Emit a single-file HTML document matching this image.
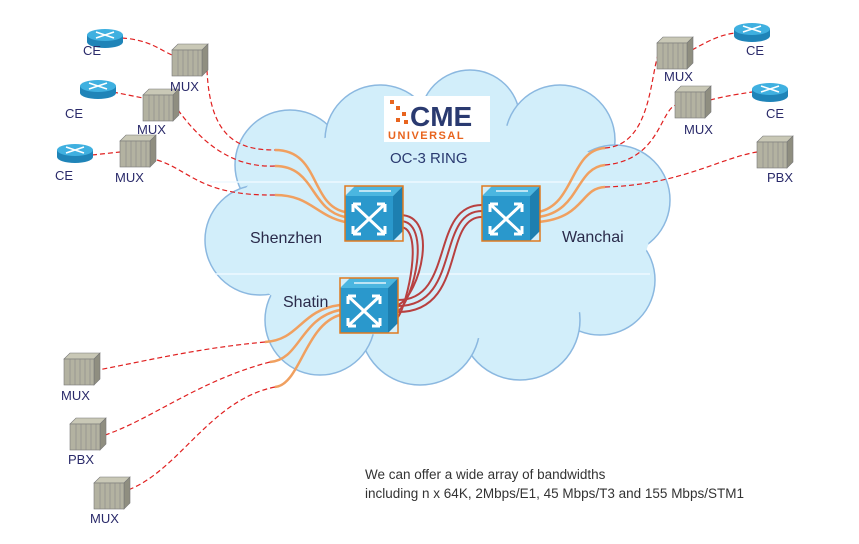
<!DOCTYPE html>
<html><head><style>
body{margin:0;background:#fff;}
svg{display:block;font-family:"Liberation Sans",sans-serif;}
</style></head><body>
<svg width="859" height="544" viewBox="0 0 859 544" xmlns="http://www.w3.org/2000/svg">
<defs>
<g id="mux">
<path d="M0 6 L6 0 L36 0 L30 6 Z" fill="#c9c8b6" stroke="#777" stroke-width=".6"/>
<path d="M30 6 L36 0 L36 26 L30 32 Z" fill="#8f8e80" stroke="#777" stroke-width=".6"/>
<rect x="0" y="6" width="30" height="26" fill="#b3b2a1" stroke="#777" stroke-width=".6"/>
<path d="M6 6V32M11 6V32M16 6V32M21 6V32M26 6V32" stroke="#888" stroke-width=".6"/>
</g>
<g id="rtr">
<ellipse cx="0" cy="7" rx="18" ry="6" fill="#1f84b8"/>
<rect x="-18" y="0" width="36" height="7" fill="#1f84b8"/>
<ellipse cx="0" cy="0" rx="18" ry="6" fill="#3fb0e0"/>
<path d="M-9 -3L9 3M-9 3L9 -3" stroke="#fff" stroke-width="1.5"/>
</g>
<g id="sw">
<path d="M0 10 L10 0 L58 0 L48 10Z" fill="#4bb6e0"/>
<path d="M48 10 L58 0 L58 45 L48 55Z" fill="#1d7fb0"/>
<rect x="0" y="10" width="48" height="45" fill="#2a98cc"/>
<rect x="0" y="0" width="58" height="55" fill="none" stroke="#e07a1f" stroke-width="1.5"/>
<path d="M8 18L40 48M8 48L40 18M8 18h8M8 18v8M40 18h-8M40 18v8M8 48h8M8 48v-8M40 48h-8M40 48v-8" stroke="#fff" stroke-width="3" fill="none"/>
<path d="M14 5h20M26 5h20" stroke="#fff" stroke-width="1.2"/>
</g>
</defs>
<g fill="#d2eefa" stroke="#8bb8e0" stroke-width="1.5">
<circle cx="290" cy="165" r="55"/>
<circle cx="380" cy="140" r="55"/>
<circle cx="470" cy="120" r="50"/>
<circle cx="560" cy="140" r="55"/>
<circle cx="615" cy="200" r="55"/>
<circle cx="600" cy="280" r="55"/>
<circle cx="520" cy="320" r="60"/>
<circle cx="420" cy="325" r="60"/>
<circle cx="320" cy="320" r="55"/>
<circle cx="260" cy="240" r="55"/>
</g>
<g fill="#d2eefa">
<ellipse cx="440" cy="230" rx="210" ry="110"/>
</g>
<path d="M210 182H655M215 274H650" stroke="#eef9ff" stroke-width="1.5"/>
<rect x="384" y="96" width="106" height="46" fill="#fff"/>
<g fill="#e8641e"><rect x="390" y="100" width="4" height="4"/><rect x="396" y="106" width="4" height="4"/><rect x="402" y="112" width="4" height="4"/><rect x="396" y="118" width="4" height="4"/><rect x="404" y="120" width="4" height="4"/></g>
<text x="410" y="126" font-size="28" font-weight="bold" fill="#2a3a70">CME</text>
<text x="388" y="139" font-size="11" font-weight="bold" fill="#e8641e" letter-spacing="1.5">UNIVERSAL</text>
<text x="390" y="163" font-size="15" fill="#2a3a70">OC-3 RING</text>
<g stroke="#b84040" stroke-width="2" fill="none">
<path d="M400 215 C440 215 420 295 398 305"/>
<path d="M400 221 C432 221 414 300 398 311"/>
<path d="M400 227 C425 227 407 305 398 317"/>
<path d="M482 205 C430 205 455 300 398 300"/>
<path d="M482 211 C436 211 461 306 398 306"/>
<path d="M482 217 C442 217 467 312 398 312"/>
</g>
<g stroke="#f0a060" stroke-width="2.5" fill="none">
<path d="M275 150 C320 150 310 205 345 212"/>
<path d="M275 166 C315 166 310 210 345 217"/>
<path d="M275 195 C310 195 315 215 345 222"/>
<path d="M538 212 C575 205 570 150 605 148"/>
<path d="M538 217 C580 212 575 168 605 165"/>
<path d="M538 222 C585 218 580 188 605 187"/>
<path d="M340 305 C300 310 300 340 265 342"/>
<path d="M340 310 C300 318 300 360 270 362"/>
<path d="M340 315 C305 325 300 385 275 387"/>
</g>
<g stroke="#e02020" stroke-width="1.2" stroke-dasharray="5,3" fill="none">
<path d="M122 38 C150 40 160 50 172 55"/>
<path d="M113 92 L143 98"/>
<path d="M92 155 L120 152"/>
<path d="M207 70 C210 140 240 150 275 150"/>
<path d="M178 110 C200 140 230 168 275 166"/>
<path d="M157 160 C190 170 200 196 275 195"/>
<path d="M605 148 C650 145 650 80 658 55"/>
<path d="M605 165 C660 160 660 110 676 105"/>
<path d="M605 187 C680 185 720 158 757 152"/>
<path d="M692 50 C710 40 720 35 735 33"/>
<path d="M710 100 C730 95 740 94 752 92"/>
<path d="M265 342 C200 348 150 360 98 370"/>
<path d="M270 362 C200 380 150 420 105 435"/>
<path d="M275 387 C210 400 180 470 128 490"/>
</g>
<use href="#rtr" x="105" y="35"/>
<use href="#rtr" x="98" y="86"/>
<use href="#rtr" x="75" y="150"/>
<use href="#rtr" x="752" y="29"/>
<use href="#rtr" x="770" y="89"/>
<use href="#mux" x="172" y="44"/>
<use href="#mux" x="143" y="89"/>
<use href="#mux" x="120" y="135"/>
<use href="#mux" x="657" y="37"/>
<use href="#mux" x="675" y="86"/>
<use href="#mux" x="64" y="353"/>
<use href="#mux" x="94" y="477"/>
<use href="#mux" x="757" y="136"/>
<use href="#mux" x="70" y="418"/>
<use href="#sw" x="345" y="186"/>
<use href="#sw" x="482" y="186"/>
<use href="#sw" x="340" y="278"/>
<g font-size="13" fill="#2a2a6a">
<text x="83" y="55">CE</text><text x="65" y="118">CE</text><text x="55" y="180">CE</text>
<text x="170" y="91">MUX</text><text x="137" y="134">MUX</text><text x="115" y="182">MUX</text>
<text x="746" y="55">CE</text><text x="766" y="118">CE</text>
<text x="664" y="81">MUX</text><text x="684" y="134">MUX</text>
<text x="767" y="182">PBX</text>
<text x="61" y="400">MUX</text><text x="68" y="464">PBX</text><text x="90" y="523">MUX</text>
</g>
<g font-size="16" fill="#2a2a4a">
<text x="250" y="243">Shenzhen</text><text x="562" y="242">Wanchai</text><text x="283" y="307">Shatin</text>
</g>
<g font-size="13.5" fill="#333">
<text x="365" y="479">We can offer a wide array of bandwidths</text>
<text x="365" y="498">including n x 64K, 2Mbps/E1, 45 Mbps/T3 and 155 Mbps/STM1</text>
</g>
</svg>
</body></html>
